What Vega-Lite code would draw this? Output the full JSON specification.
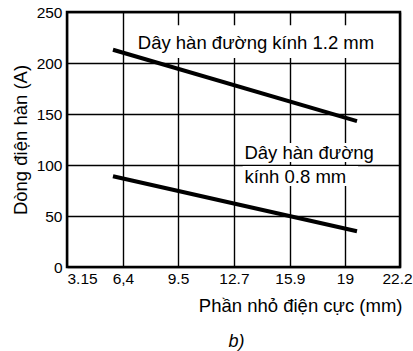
{
  "$schema": "https://vega.github.io/schema/vega-lite/v6.json",
  "width": 333,
  "height": 255,
  "autosize": {"type": "none"},
  "padding": {"left": 67, "top": 12, "right": 13, "bottom": 84},
  "background": "white",
  "config": {
    "font": "Liberation Sans",
    "view": {"stroke": "black", "strokeWidth": 2.5},
    "axis": {"gridColor": "black", "gridOpacity": 1, "gridWidth": 1.4, "domain": false, "ticks": false, "labelColor": "black", "titleColor": "black", "labelFont": "Liberation Sans", "titleFont": "Liberation Sans", "titleFontWeight": "normal", "labelFontSize": 15.5, "titleFontSize": 18.5}
  },
  "title": {"text": "b)", "orient": "bottom", "fontStyle": "italic", "fontWeight": "normal", "fontSize": 18, "font": "Liberation Sans", "color": "black", "offset": 18, "anchor": "middle", "dx": 3},
  "datasets": {
    "lines": [
      {"x": 5.78, "y": 213, "wire": "1.2"},
      {"x": 19.74, "y": 143, "wire": "1.2"},
      {"x": 5.78, "y": 89, "wire": "0.8"},
      {"x": 19.74, "y": 35, "wire": "0.8"}
    ],
    "boxes": [
      {"x": 6.75, "x2": 22.09, "y": 205, "y2": 237},
      {"x": 13.2, "x2": 20.9, "y": 103, "y2": 121.5},
      {"x": 13.2, "x2": 19.8, "y": 79.5, "y2": 99}
    ],
    "labels": [
      {"x": 7.2, "y": 220, "text": "Dây hàn đường kính 1.2 mm"},
      {"x": 13.3, "y": 111.5, "text": "Dây hàn đường"},
      {"x": 13.3, "y": 88, "text": "kính 0.8 mm"}
    ]
  },
  "layer": [
    {
      "data": {"name": "boxes"},
      "mark": {"type": "rect", "color": "white"},
      "encoding": {
        "x": {"field": "x", "type": "quantitative", "scale": {"domain": [3.15, 22.2], "nice": false, "zero": false},
          "axis": {"values": [3.15, 6.35, 9.5, 12.7, 15.9, 19.05, 22.2], "labelExpr": "datum.value == 6.35 ? '6,4' : datum.value == 19.05 ? '19' : datum.value == 3.15 ? '3.15' : datum.value == 22.2 ? '22.2' : format(datum.value, '.1f')", "labelFlush": false, "labelAlign": {"condition": {"test": "datum.value == 3.15", "value": "left"}, "value": "center"}, "labelOffset": {"condition": {"test": "datum.value == 22.2", "value": -3}, "value": 0}, "labelPadding": 4, "title": "Phần nhỏ điện cực (mm)", "titlePadding": 10, "titleAnchor": "end", "titleX": 335, "labelOverlap": false}},
        "x2": {"field": "x2"},
        "y": {"field": "y", "type": "quantitative", "scale": {"domain": [0, 250], "nice": false},
          "axis": {"values": [0, 50, 100, 150, 200, 250], "labelPadding": 5, "title": "Dòng điện hàn (A)", "titlePadding": 6, "labelFlush": false}},
        "y2": {"field": "y2"}
      }
    },
    {
      "data": {"name": "lines"},
      "mark": {"type": "line", "color": "black", "strokeWidth": 4},
      "encoding": {
        "x": {"field": "x", "type": "quantitative"},
        "y": {"field": "y", "type": "quantitative"},
        "detail": {"field": "wire"}
      }
    },
    {
      "data": {"name": "labels"},
      "mark": {"type": "text", "align": "left", "baseline": "middle", "fontSize": 18.5, "color": "black", "font": "Liberation Sans"},
      "encoding": {
        "x": {"field": "x", "type": "quantitative"},
        "y": {"field": "y", "type": "quantitative"},
        "text": {"field": "text"}
      }
    }
  ]
}
